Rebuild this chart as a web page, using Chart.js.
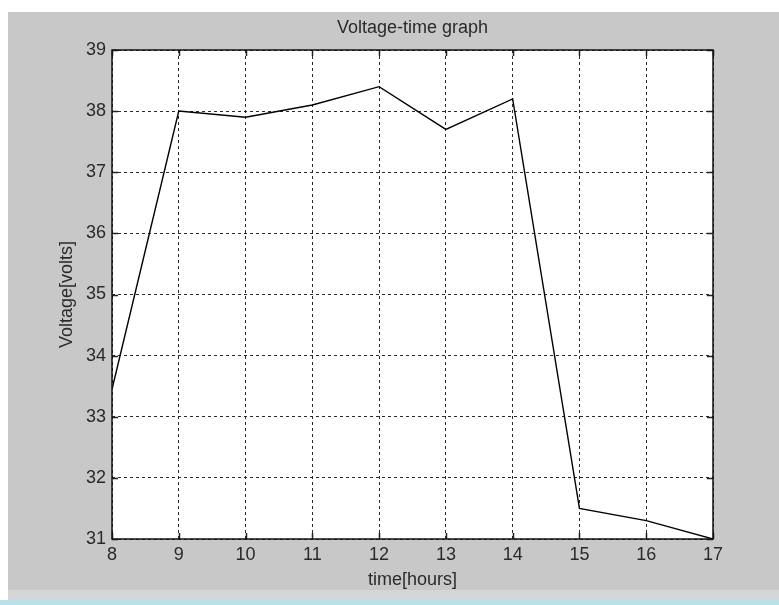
<!DOCTYPE html>
<html>
<head>
<meta charset="utf-8">
<script src="https://cdn.jsdelivr.net/npm/chart.js@4/dist/chart.umd.min.js"></script>
<style>
  html, body { margin: 0; padding: 0; background: #fff; }
  #wrap { position: relative; width: 779px; height: 605px; }
</style>
</head>
<body>
<div id="wrap"><canvas id="voltChart"></canvas></div>
<script>
// Data
const hours = [8, 9, 10, 11, 12, 13, 14, 15, 16, 17];
const volts = [33.45, 38.0, 37.9, 38.1, 38.4, 37.7, 38.2, 31.5, 31.3, 31.0];
const yTicks = [31, 32, 33, 34, 35, 36, 37, 38, 39];

const points = hours.map((h, i) => ({ x: h, y: volts[i] }));
const FONT = 'Liberation Sans, Arial, sans-serif';

// figure background, box around plot and small inward tick marks
const figurePlugin = {
    id: 'figure',
    beforeDraw(chart) {
        const { ctx, chartArea: a } = chart;
        ctx.save();
        ctx.fillStyle = '#ffffff';
        ctx.fillRect(0, 0, chart.width, chart.height);
        ctx.fillStyle = '#c8c8c8';
        ctx.fillRect(8, 12, chart.width - 8, 578);
        ctx.fillStyle = '#d3d6d8';
        ctx.fillRect(8, 590, chart.width - 8, 10);
        ctx.fillStyle = '#b9dfe8';
        ctx.fillRect(0, 600, chart.width, 5);
        ctx.fillStyle = '#ffffff';
        ctx.fillRect(a.left, a.top, a.right - a.left, a.bottom - a.top);
        ctx.restore();
    },
    afterDatasetsDraw(chart) {
        const { ctx, chartArea: a, scales } = chart;
        ctx.save();
        ctx.strokeStyle = '#222';
        ctx.lineWidth = 1.5;
        ctx.beginPath();
        hours.forEach(h => {
            const px = Math.round(scales.x.getPixelForValue(h)) + 0.5;
            ctx.moveTo(px, a.bottom); ctx.lineTo(px, a.bottom - 6);
            ctx.moveTo(px, a.top); ctx.lineTo(px, a.top + 6);
        });
        yTicks.forEach(v => {
            const py = Math.round(scales.y.getPixelForValue(v)) + 0.5;
            ctx.moveTo(a.left, py); ctx.lineTo(a.left + 6, py);
            ctx.moveTo(a.right, py); ctx.lineTo(a.right - 6, py);
        });
        ctx.stroke();
        ctx.strokeStyle = '#111';
        ctx.strokeRect(a.left, a.top, a.right - a.left, a.bottom - a.top);
        ctx.restore();
    }
};

const ctx = document.getElementById('voltChart').getContext('2d');
const voltChart = new Chart(ctx, {
    type: 'line',
    data: {
        datasets: [{
            label: 'Voltage',
            data: points,
            borderColor: '#000',
            borderWidth: 1.4,
            pointRadius: 0,
            tension: 0,
            fill: false
        }]
    },
    options: {
        responsive: true,
        maintainAspectRatio: false,
        animation: false,
        layout: { padding: { left: 0, top: 0, right: 66, bottom: 0 } },
        plugins: {
            legend: { display: false },
            tooltip: { enabled: false },
            title: {
                display: true,
                fullSize: false,
                text: 'Voltage-time graph',
                color: '#2a2a2a',
                font: { family: FONT, size: 18, weight: 'normal', lineHeight: 1.2 },
                padding: { top: 17, bottom: 11.4 }
            }
        },
        scales: {
            x: {
                type: 'linear',
                min: 8,
                max: 17,
                afterFit: s => { s.height = 66; },
                ticks: {
                    stepSize: 1,
                    padding: 5,
                    color: '#2a2a2a',
                    font: { family: FONT, size: 18 }
                },
                grid: {
                    color: '#2a2a2a',
                    lineWidth: 1,
                    drawTicks: false
                },
                border: { display: false, dash: [3, 3] },
                title: {
                    display: true,
                    text: 'time[hours]',
                    color: '#2a2a2a',
                    font: { family: FONT, size: 18, lineHeight: 1.2 },
                    padding: { top: 0, bottom: 14 }
                }
            },
            y: {
                min: 31,
                max: 39,
                afterFit: s => { s.width = 112; },
                ticks: {
                    stepSize: 1,
                    padding: 6,
                    color: '#2a2a2a',
                    font: { family: FONT, size: 18 }
                },
                grid: {
                    color: '#2a2a2a',
                    lineWidth: 1,
                    drawTicks: false
                },
                border: { display: false, dash: [3, 3] },
                title: {
                    display: true,
                    text: 'Voltage[volts]',
                    color: '#2a2a2a',
                    font: { family: FONT, size: 18, lineHeight: 1.2 },
                    padding: { top: 56, bottom: 0 }
                }
            }
        }
    },
    plugins: [figurePlugin]
});
</script>
</body>
</html>
